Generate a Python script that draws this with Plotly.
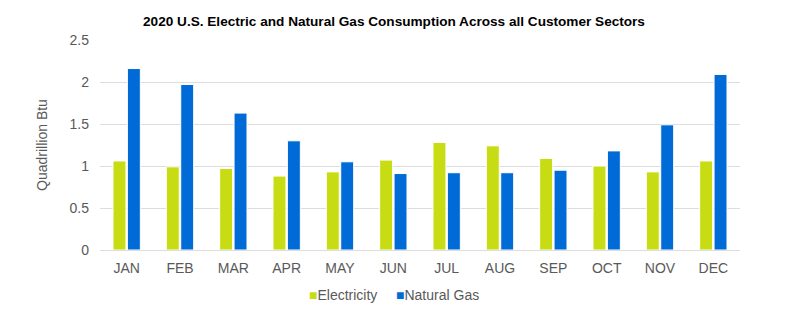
import plotly.graph_objects as go

months = ["JAN", "FEB", "MAR", "APR", "MAY", "JUN", "JUL", "AUG", "SEP", "OCT", "NOV", "DEC"]
electricity = [1.06, 0.99, 0.97, 0.88, 0.93, 1.07, 1.28, 1.24, 1.09, 1.00, 0.93, 1.06]
natural_gas = [2.16, 1.97, 1.63, 1.30, 1.05, 0.91, 0.92, 0.92, 0.95, 1.18, 1.49, 2.09]
y_ticks = [0, 0.5, 1, 1.5, 2, 2.5]
y_tick_labels = ["0", "0.5", "1", "1.5", "2", "2.5"]

series = [
    ("Electricity", electricity, "#C8DC14"),
    ("Natural Gas", natural_gas, "#006BD6"),
]

fig = go.Figure()
for name, values, color in series:
    fig.add_trace(go.Bar(
        x=months, y=values, name=name,
        marker=dict(color=color, line=dict(color="white", width=1)),
        showlegend=False,
    ))

# compact legend below the plot: small colour square followed by the label
legend_x = [0.323, 0.459]
for (name, _, color), lx in zip(series, legend_x):
    fig.add_annotation(
        xref="paper", yref="paper", x=lx, y=-0.215, xanchor="left", yanchor="middle",
        text=f"<span style='color:{color}'>■</span>{name}",
        showarrow=False, font=dict(size=14, color="#595959"),
    )

fig.update_layout(
    width=788, height=322,
    margin=dict(l=100, r=48, t=40, b=72, autoexpand=False),
    paper_bgcolor="white", plot_bgcolor="white",
    barmode="group", bargap=0.46, bargroupgap=0.1,
    font=dict(family="Arial, Liberation Sans, sans-serif", color="#595959", size=14),
    title=dict(
        text="<b>2020 U.S. Electric and Natural Gas Consumption Across all Customer Sectors</b>",
        x=0.5, xanchor="center", y=0.935, yanchor="middle",
        font=dict(size=13.6, color="#000000"),
    ),
    xaxis=dict(
        showgrid=False, showline=False, ticks="", automargin=False,
        ticklabelstandoff=8,
        tickfont=dict(size=14, color="#595959"),
    ),
    yaxis=dict(
        range=[0, 2.5], tickvals=y_ticks, ticktext=y_tick_labels,
        showgrid=True, gridcolor="#DDDDDD", gridwidth=1,
        zeroline=True, zerolinecolor="#DDDDDD", zerolinewidth=1,
        showline=False, ticks="", ticklen=0, automargin=False,
        ticklabelstandoff=10,
        tickfont=dict(size=14, color="#595959"),
        title=dict(text="Quadrillion Btu", font=dict(size=14, color="#595959"), standoff=18),
    ),
)

fig.write_html("out.html")
